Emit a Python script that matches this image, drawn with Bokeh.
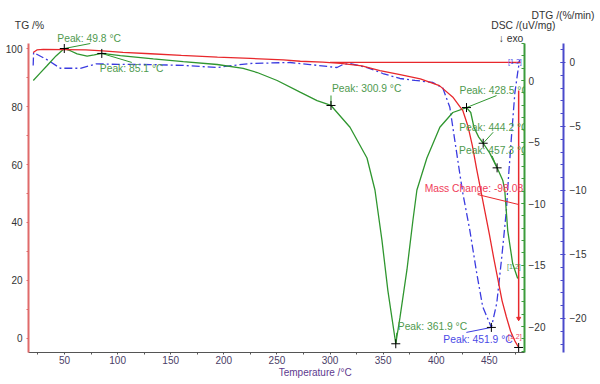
from bokeh.plotting import figure
from bokeh.models import Range1d, LinearAxis, FixedTicker, Title
from bokeh.core.properties import value
from bokeh.embed import file_html
from bokeh.resources import INLINE

FONT = "Liberation Sans"

# ---------------- data ----------------
temp_ticks = [50, 100, 150, 200, 250, 300, 350, 400, 450]
temp_minor = [25, 75, 125, 175, 225, 275, 325, 375, 425, 475]
tg_ticks = [0, 20, 40, 60, 80, 100]
tg_minor = [10, 30, 50, 70, 90]
dsc_ticks = [-20, -15, -10, -5, 0]
dtg_ticks = [-20, -15, -10, -5, 0]

# TG /%
tg_temp = [20.5, 24, 30, 50, 70, 86, 105, 131, 160, 194, 225, 256, 272, 293, 310,
           330, 347, 366, 385, 403, 416, 425, 430, 434, 438, 442, 446, 450, 454,
           458, 462, 466, 470, 474, 477.6]
tg_mass = [98.6, 99.5, 99.7, 99.6, 99.5, 99.2, 98.7, 98.2, 97.6, 97.0, 96.6, 96.1,
           95.6, 95.3, 94.9, 94.0, 92.4, 91.0, 89.5, 87.2, 83.1, 78.6, 73.0, 66.5,
           58.5, 51.0, 43.5, 36.0, 28.0, 20.5, 13.0, 7.5, 2.5, -0.8, -3.1]

# DSC /(uV/mg)
dsc_temp = [20.6, 27, 33.7, 42, 49.8, 56, 61.9, 71.3, 78, 85.1, 102.6, 133.6, 161.8,
            193.8, 218.2, 231.4, 250.2, 271.8, 287.8, 300.9, 318.8, 334.8, 342.3,
            348.9, 354.5, 361.9, 365.8, 372.4, 378, 381.8, 391.2, 403.4, 415.6,
            428.5, 432.5, 435.5, 440, 444.2, 450.4, 457.3, 462.6, 464.5, 467.3,
            472, 476.7]
dsc_signal = [0.0, 0.6, 1.22, 2.0, 2.6, 2.4, 2.17, 1.98, 2.08, 2.2, 2.03, 1.76, 1.54,
              1.3, 0.98, 0.65, 0.0, -0.95, -1.63, -2.03, -3.8, -6.3, -8.9,
              -13.0, -17.1, -21.4, -19.3, -15.4, -11.4, -8.9, -6.3, -3.8, -2.6,
              -2.2, -2.6, -3.8, -4.6, -5.1, -5.9, -7.1, -8.1, -8.9, -12.2,
              -14.9, -16.1]

# DTG /(%/min)
dtg_temp = [20.5, 20.9, 35, 46, 65, 80, 100, 130.8, 161.8, 193.8, 208.8, 224.8,
            262.4, 281.2, 297.2, 306.6, 312.2, 318.8, 335, 349.8, 365.8, 380,
            396.8, 406.2, 412.8, 417.5, 422.2, 425, 431.6, 438.2, 443.8, 451.9,
            457, 461.7, 466, 468, 471, 474, 477, 478.6]
dtg_rate = [-0.23, 0.78, 0.15, -0.45, -0.45, -0.1, -0.15, -0.16, -0.23, -0.39,
            -0.23, -0.08, 0.0, -0.16, -0.31, -0.39, -0.16, -0.08, -0.4, -0.86,
            -1.25, -1.4, -1.56, -2.0, -3.5, -6.1, -8.7, -10.2, -13.1, -16.5,
            -19.1, -20.7, -18.8, -15.2, -11.6, -9.0, -5.6, -2.4, -0.6, 0.2]

dsc_peak_temp = [49.8, 85.1, 300.9, 361.9, 428.5, 444.2, 457.3]
dsc_peak_val = [2.6, 2.2, -2.03, -21.4, -2.2, -5.1, -7.1]
dtg_peak_temp = [451.9]
dtg_peak_val = [-20.7]

mass_change = -98.08
step_start_temp = [300.0]
step_level = [95.2]
step_arrow_top = [85.5]
step_arrow_bottom = [6.9]

# ---------------- layout ----------------
W, H = 600, 384
ML, MR, MT, MB = 28, 76, 30, 32
FW, FH = W - ML - MR, H - MT - MB

X0, X1 = 16.1, 483.1
TG0, TG1 = -4.83, 106.21      # frame range (axis itself drawn up to TG_AX)
TG_AX = 101.72
DSC0, DSC1 = -22.11, 4.065
DSC_AX = 3.01
DTG0, DTG1 = -22.66, 2.50
DTG_AX = 1.48

RED = "#e8282c"
GREEN = "#2f962f"
BLUE = "#3b3be0"
LGREEN = "#4f9a4f"
LBLUE = "#4a4ae6"
LRED = "#f0405a"
DARK = "#333333"


def dxp(px):
    return px * (X1 - X0) / FW


def dyp(py, lo, hi):
    return -py * (hi - lo) / FH


def canvas_x(px):
    return X0 + (px - ML) * (X1 - X0) / FW


def canvas_tg(py):
    return TG1 - (py - MT) * (TG1 - TG0) / FH


p = figure(width=W, height=H, x_range=Range1d(X0, X1), y_range=Range1d(TG0, TG1),
           output_backend="svg", toolbar_location=None,
           min_border_left=ML, min_border_right=MR, min_border_top=MT, min_border_bottom=MB)
p.title.visible = False
p.extra_y_ranges = {"dsc": Range1d(DSC0, DSC1), "dtg": Range1d(DTG0, DTG1)}
p.outline_line_color = None
p.grid.visible = False
p.background_fill_color = "white"
p.border_fill_color = "white"

# x axis
xa = p.xaxis[0]
xa.ticker = FixedTicker(ticks=temp_ticks, minor_ticks=temp_minor)
xa.axis_line_color = "#555555"
xa.axis_line_width = 1.2
xa.major_tick_line_color = "#555555"
xa.minor_tick_line_color = "#555555"
xa.major_tick_in = 0
xa.major_tick_out = 2
xa.minor_tick_in = 0
xa.minor_tick_out = 2
xa.major_label_standoff = 1
xa.major_label_text_font = FONT
xa.major_label_text_font_size = "10px"
xa.major_label_text_color = "#4a3d66"

# x axis title (a tick-less axis whose single label is the title)
title_pos = int(round(canvas_x(315)))
x_title = LinearAxis(ticker=FixedTicker(ticks=[title_pos], minor_ticks=[]),
                     major_label_overrides={title_pos: "Temperature /°C"},
                     axis_line_color=None, major_tick_line_color=None,
                     minor_tick_line_color=None, major_tick_in=0, major_tick_out=0,
                     major_label_standoff=0, major_label_text_font=FONT,
                     major_label_text_font_size="10px", major_label_text_color="#5e3a8e")
p.add_layout(x_title, "below")

# left TG axis
ya = p.yaxis[0]
ya.ticker = FixedTicker(ticks=tg_ticks, minor_ticks=tg_minor)
ya.bounds = (TG0, TG_AX)
ya.axis_line_color = "#e06a6a"
ya.axis_line_width = 2
ya.major_tick_line_color = "#e06a6a"
ya.minor_tick_line_color = "#e06a6a"
ya.major_tick_in = 0
ya.major_tick_out = 2
ya.minor_tick_in = 0
ya.minor_tick_out = 2
ya.major_label_standoff = 4
ya.major_label_text_font = FONT
ya.major_label_text_font_size = "10px"
ya.major_label_text_color = DARK

# DSC axis (inner right)
dsc_axis = LinearAxis(y_range_name="dsc", bounds=(DSC0, DSC_AX),
                      ticker=FixedTicker(ticks=dsc_ticks, minor_ticks=list(range(-22, 4))),
                      axis_line_color="#3c9c3c", axis_line_width=2,
                      major_tick_line_color="#3c9c3c", minor_tick_line_color="#3c9c3c",
                      major_tick_in=3, major_tick_out=0, minor_tick_in=3, minor_tick_out=0,
                      major_label_standoff=4, major_label_text_font=FONT,
                      major_label_text_font_size="10px", major_label_text_color=DARK,
                      axis_label=" ", axis_label_standoff=1,
                      axis_label_text_font_size="10px")
p.add_layout(dsc_axis, "right")

# DTG axis (outer right)
dtg_axis = LinearAxis(y_range_name="dtg", bounds=(DTG0, DTG_AX),
                      ticker=FixedTicker(ticks=dtg_ticks, minor_ticks=list(range(-22, 2))),
                      axis_line_color="#4a4acc", axis_line_width=2,
                      major_tick_line_color="#4a4acc", minor_tick_line_color="#4a4acc",
                      major_tick_in=3, major_tick_out=2, minor_tick_in=3, minor_tick_out=0,
                      major_label_standoff=4, major_label_text_font=FONT,
                      major_label_text_font_size="10px", major_label_text_color=DARK)
p.add_layout(dtg_axis, "right")

# axis titles above the frame
tg_pos = 17
dsc_pos = int(round(canvas_x(523)))
row1 = LinearAxis(ticker=FixedTicker(ticks=[tg_pos, dsc_pos], minor_ticks=[]),
                  major_label_overrides={tg_pos: "TG /%", dsc_pos: "DSC /(uV/mg)"},
                  axis_line_color=None, major_tick_line_color=None,
                  minor_tick_line_color=None, major_tick_in=0, major_tick_out=0,
                  major_label_standoff=0, major_label_text_font=FONT,
                  major_label_text_font_size="10.3px", major_label_text_color=DARK)
p.add_layout(row1, "above")
p.add_layout(Title(text="DTG /(%/min)", align="right", offset=-70, standoff=-8,
                   text_font=FONT, text_font_size="10.3px", text_font_style="normal",
                   text_color=DARK), "above")

# curves
p.line(dtg_temp, dtg_rate, color=BLUE, line_width=1.3, line_dash="8 3 2 3", y_range_name="dtg")
p.line(dsc_temp, dsc_signal, color=GREEN, line_width=1.3, y_range_name="dsc")
p.line(tg_temp, tg_mass, color=RED, line_width=1.3)

# "exo" direction marker
p.text(x=[canvas_x(510.5)], y=[canvas_tg(38)], text=["\u2193 exo"], text_align="center",
       text_baseline="middle", text_color=DARK, text_font=value(FONT), text_font_size="10.3px")

# mass change evaluation
end_t = tg_temp[-1]
p.segment(x0=step_start_temp, y0=step_level, x1=[end_t + 2], y1=step_level, color=RED, line_width=1.2)
p.segment(x0=[end_t], y0=step_arrow_top, x1=[end_t], y1=step_arrow_bottom, color=RED, line_width=1.5)
p.scatter([end_t], step_arrow_bottom, marker="inverted_triangle", size=4, color=RED)
mid = (step_arrow_top[0] + step_arrow_bottom[0]) / 2
p.segment(x0=[end_t], y0=[mid], x1=[end_t + dxp(-41)], y1=[mid + dyp(-10, TG0, TG1)], color=RED, line_width=1)
p.text(x=[end_t], y=[mid], text=[f"Mass Change: {mass_change:.2f} %"], x_offset=[-94], y_offset=[-16],
       text_baseline="middle", text_align="left", text_color=LRED,
       text_font=value(FONT), text_font_size="10.3px")

# DSC peaks
lab_off = [(-7, -10), (-2, 15), (1, -17), (2, -17), (-7, -17), (-24, -16), (-38, -17)]
lead_off = [(26, -5), (30, 9), (0, -10), (1, -11), (30, -12), (10, -11), (-5, -12)]
p.segment(x0=dsc_peak_temp, y0=dsc_peak_val,
          x1=[t + dxp(o[0]) for t, o in zip(dsc_peak_temp, lead_off)],
          y1=[v + dyp(o[1], DSC0, DSC1) for v, o in zip(dsc_peak_val, lead_off)],
          color=GREEN, line_width=1, y_range_name="dsc")
p.scatter(dsc_peak_temp, dsc_peak_val, marker="cross", size=9, line_color="black",
          line_width=1, y_range_name="dsc")
p.text(x=dsc_peak_temp, y=dsc_peak_val, text=[f"Peak: {t:.1f} °C" for t in dsc_peak_temp],
       x_offset=[o[0] for o in lab_off], y_offset=[o[1] for o in lab_off],
       text_baseline="middle", text_align="left", text_color=LGREEN,
       text_font=value(FONT), text_font_size="10.3px", y_range_name="dsc")

# DTG peak
p.segment(x0=dtg_peak_temp, y0=dtg_peak_val,
          x1=[dtg_peak_temp[0] + dxp(-25)], y1=[dtg_peak_val[0] + dyp(5, DTG0, DTG1)],
          color=BLUE, line_width=1, y_range_name="dtg")
p.scatter(dtg_peak_temp, dtg_peak_val, marker="cross", size=9, line_color="black",
          line_width=1, y_range_name="dtg")
p.text(x=dtg_peak_temp, y=dtg_peak_val, text=[f"Peak: {t:.1f} °C" for t in dtg_peak_temp],
       x_offset=[-48], y_offset=[12], text_baseline="middle", text_align="left",
       text_color=LBLUE, text_font=value(FONT), text_font_size="10.3px", y_range_name="dtg")

# end marker on TG
p.scatter([tg_temp[-1]], [tg_mass[-1]], marker="cross", size=9, line_color="black", line_width=1)

# segment tags
p.text(x=[dtg_temp[-1]], y=[dtg_rate[-1]], text=["[1.2]"], x_offset=[2], y_offset=[2],
       text_baseline="middle", text_align="right", text_color=LBLUE,
       text_font=value(FONT), text_font_size="7px", y_range_name="dtg")
p.text(x=[dsc_temp[-1]], y=[dsc_signal[-1]], text=["[1.2]"], x_offset=[3], y_offset=[-12],
       text_baseline="middle", text_align="right", text_color=LGREEN,
       text_font=value(FONT), text_font_size="7px", y_range_name="dsc")
p.text(x=[tg_temp[-1]], y=[tg_mass[-1]], text=["[1.2]"], x_offset=[3], y_offset=[-11],
       text_baseline="middle", text_align="right", text_color=LRED,
       text_font=value(FONT), text_font_size="7px")

open("out.html", "w").write(file_html(p, INLINE))
